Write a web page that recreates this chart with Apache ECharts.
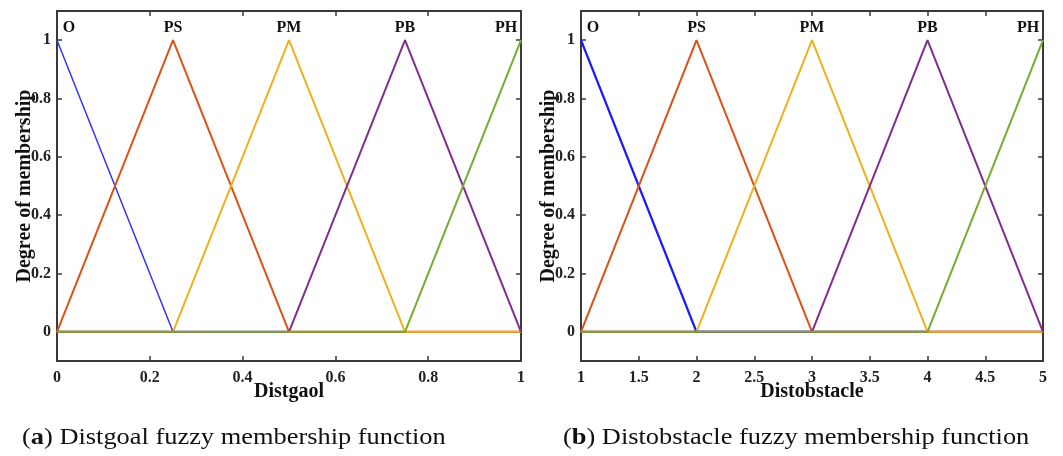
<!DOCTYPE html>
<html>
<head>
<meta charset="utf-8">
<script src="https://cdn.jsdelivr.net/npm/echarts@6/dist/echarts.min.js"></script>
<style>
html,body{margin:0;padding:0;background:#fff;}
#c{width:1063px;height:456px;}
</style>
</head>
<body>
<div id="c"></div>
<script>
// Data
const termNames = ['O', 'PS', 'PM', 'PB', 'PH'];
const xGoal = [0, 0.25, 0.5, 0.75, 1];
const xObs = [1, 2, 3, 4, 5];
const muO  = [1, 0, 0, 0, 0];
const muPS = [0, 1, 0, 0, 0];
const muPM = [0, 0, 1, 0, 0];
const muPB = [0, 0, 0, 1, 0];
const muPH = [0, 0, 0, 0, 1];
const memberships = [muO, muPS, muPM, muPB, muPH];
const yTicks = [0, 0.2, 0.4, 0.6, 0.8, 1];

const colorsA = ['#3535f2', '#d95319', '#edb120', '#7e2f8e', '#77ac30'];
const colorsB = ['#1a1aff', '#d95319', '#edb120', '#7e2f8e', '#77ac30'];
const serif = '"Liberation Serif","Times New Roman",serif';
const axisColor = '#3a3a3a';

const chart = echarts.init(document.getElementById('c'), null, {renderer: 'canvas'});

const grids = [
  {left: 57, top: 11, width: 464, height: 350, show: true, borderColor: axisColor, borderWidth: 2},
  {left: 581, top: 11, width: 462, height: 350, show: true, borderColor: axisColor, borderWidth: 2}
];

function makeX(gi, min, max, interval, name, pos, showLabels) {
  return {
    type: 'value', gridIndex: gi, min: min, max: max, interval: interval, position: pos,
    name: showLabels ? name : '', nameLocation: 'middle', nameGap: 21, nameMoveOverlap: false,
    nameTextStyle: {fontFamily: serif, fontWeight: 'bold', fontSize: 20, color: '#111'},
    axisLine: {show: false, onZero: false},
    axisTick: {show: true, inside: true, length: 5, lineStyle: {color: axisColor, width: 1.5}},
    axisLabel: {show: showLabels, margin: 9, fontFamily: serif, fontWeight: 'bold', fontSize: 16, color: '#222'},
    splitLine: {show: false}
  };
}
function makeY(gi, pos, showLabels) {
  return {
    type: 'value', gridIndex: gi, min: -0.1, max: 1.1, position: pos,
    name: showLabels ? 'Degree of membership' : '', nameLocation: 'middle', nameGap: 22,
    nameMoveOverlap: false, nameRotate: 90,
    nameTextStyle: {fontFamily: serif, fontWeight: 'bold', fontSize: 20, color: '#111'},
    axisLine: {show: false, onZero: false},
    axisTick: {show: true, inside: true, length: 5, lineStyle: {color: axisColor, width: 1.5},
      customValues: yTicks},
    axisLabel: {show: showLabels, margin: 6, fontFamily: serif, fontWeight: 'bold', fontSize: 16, color: '#222',
      customValues: yTicks},
    splitLine: {show: false}
  };
}

const xAxes = [
  makeX(0, 0, 1, 0.2, 'Distgaol', 'bottom', true),
  makeX(0, 0, 1, 0.2, '', 'top', false),
  makeX(1, 1, 5, 0.5, 'Distobstacle', 'bottom', true),
  makeX(1, 1, 5, 0.5, '', 'top', false)
];
const yAxes = [
  makeY(0, 'left', true), makeY(0, 'right', false),
  makeY(1, 'left', true), makeY(1, 'right', false)
];

function buildSeries(xs, xi, yi, widths, colors) {
  return memberships.map((mu, k) => ({
    type: 'line', name: termNames[k], xAxisIndex: xi, yAxisIndex: yi,
    data: xs.map((x, j) => {
      const item = {value: [x, mu[j]]};
      if (mu[j] === 1) {
        let off = [0, 0];
        if (j === 0) off = [12, 0];
        if (j === xs.length - 1) off = [-15, 0];
        item.label = {show: true, formatter: termNames[k], position: 'top', distance: 4, offset: off,
          fontFamily: serif, fontWeight: 'bold', fontSize: 16, color: '#111'};
      }
      return item;
    }),
    symbol: 'circle', symbolSize: 1, showSymbol: true,
    itemStyle: {color: colors[k]},
    lineStyle: {color: colors[k], width: widths[k]},
    emphasis: {disabled: true},
    silent: true, z: 2 + k
  }));
}

const series = [].concat(
  buildSeries(xGoal, 0, 0, [1.5, 2, 2, 2, 2], colorsA),
  buildSeries(xObs, 2, 2, [2.3, 2, 2, 2, 2], colorsB)
);

chart.setOption({
  animation: false,
  grid: grids,
  xAxis: xAxes,
  yAxis: yAxes,
  series: series,
  graphic: [
    {type: 'text', x: 22, y: 426, scaleX: 1.1, style: {
      text: '({a|a}) Distgoal fuzzy membership function',
      font: '24px ' + serif, fill: '#111',
      rich: {a: {fontFamily: serif, fontWeight: 'bold', fontSize: 24, fill: '#111'}}
    }},
    {type: 'text', x: 563, y: 426, scaleX: 1.1, style: {
      text: '({a|b}) Distobstacle fuzzy membership function',
      font: '24px ' + serif, fill: '#111',
      rich: {a: {fontFamily: serif, fontWeight: 'bold', fontSize: 24, fill: '#111'}}
    }}
  ]
});
</script>
</body>
</html>
